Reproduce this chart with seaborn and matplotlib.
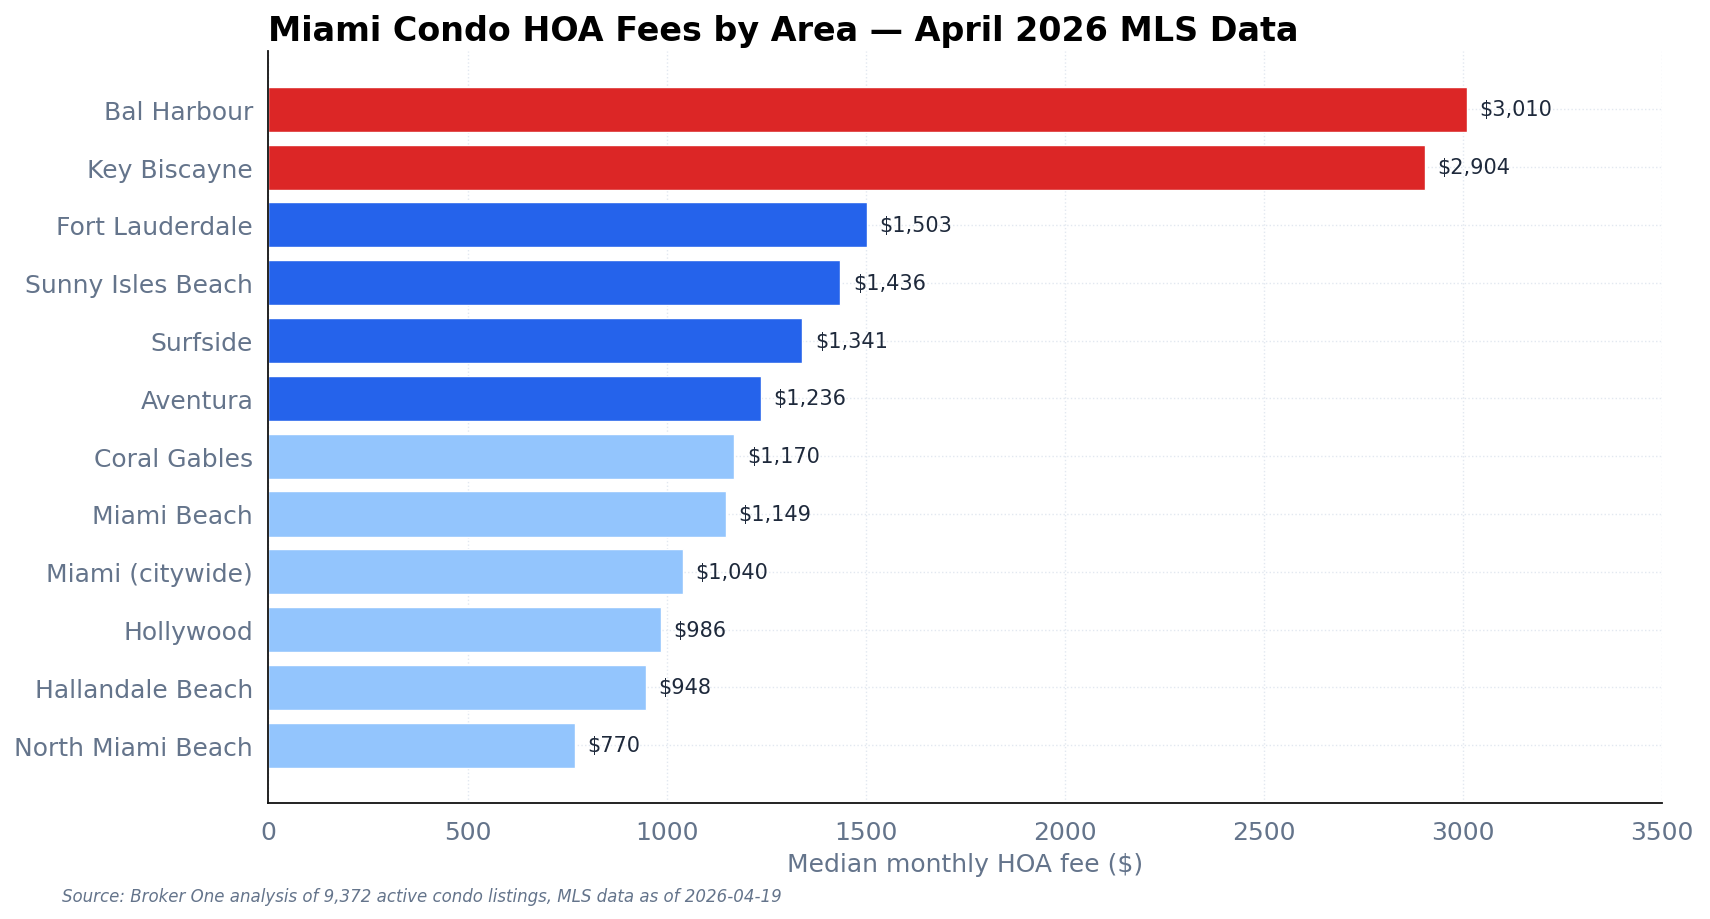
import matplotlib
matplotlib.use("Agg")
import matplotlib.pyplot as plt
import pandas as pd
import seaborn as sns

# Median monthly HOA fee per area (April 2026)
areas = ["Bal Harbour", "Key Biscayne", "Fort Lauderdale", "Sunny Isles Beach",
         "Surfside", "Aventura", "Coral Gables", "Miami Beach", "Miami (citywide)",
         "Hollywood", "Hallandale Beach", "North Miami Beach"]
fees = [3010, 2904, 1503, 1436, 1341, 1236, 1170, 1149, 1040, 986, 948, 770]
tiers = ["top", "top", "high", "high", "high", "high",
         "mid", "mid", "mid", "mid", "mid", "mid"]

tier_colors = {"top": "#dc2626", "high": "#2563eb", "mid": "#93c5fd"}

df = pd.DataFrame({"area": areas, "fee": fees, "tier": tiers})

sns.set_style("white")
plt.rcParams["font.family"] = ["DejaVu Sans"]

fig, ax = plt.subplots(figsize=(17.1, 9.2), dpi=100)
fig.subplots_adjust(left=0.157, right=0.972, top=0.943, bottom=0.126)

sns.barplot(data=df, x="fee", y="area", hue="tier", palette=tier_colors,
            saturation=1, dodge=False, legend=False, width=0.78, ax=ax, zorder=2)

# labels at the end of each bar
for cont in ax.containers:
    ax.bar_label(cont, labels=[f"${v:,.0f}" for v in cont.datavalues],
                 padding=9, fontsize=15, color="#1e293b")

ax.set_xlim(0, 3500)
ax.set_ylim(len(areas), -1)
ax.grid(True, linestyle=":", color="#e2e8f0", linewidth=1, zorder=0)
ax.set_axisbelow(True)
sns.despine(ax=ax)
for s in ["left", "bottom"]:
    ax.spines[s].set_color("#111111")
    ax.spines[s].set_linewidth(1.3)

ax.tick_params(axis="both", colors="#64748b", labelsize=18, length=5)
ax.tick_params(axis="both", color="#333333")
ax.tick_params(axis="y", pad=6)
ax.tick_params(axis="x", pad=7)
ax.set_ylabel("")
ax.set_xlabel("Median monthly HOA fee ($)", fontsize=18, color="#64748b", labelpad=6)

ax.set_title("Miami Condo HOA Fees by Area \u2014 April 2026 MLS Data",
             loc="left", fontsize=24, fontweight="bold", color="black", pad=8)

fig.text(0.036, 0.02, "Source: Broker One analysis of 9,372 active condo listings, MLS data as of 2026-04-19",
         fontsize=12, style="italic", color="#64748b")

fig.savefig("out.png", dpi=100)
